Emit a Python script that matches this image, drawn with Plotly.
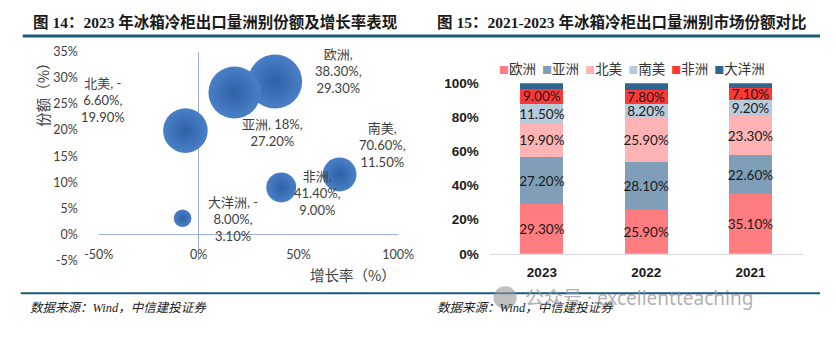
import plotly.graph_objects as go

W, H = 836, 339

# ---------------- data: left bubble chart ----------------
regions = ["欧洲", "亚洲", "北美", "南美", "非洲", "大洋洲"]
growth = [38.3, 18.0, -6.6, 70.6, 41.4, -8.0]      # 增长率 (%)
share = [29.3, 27.2, 19.9, 11.5, 9.0, 3.1]         # 份额 (%)
bubble_labels = [
    "欧洲,<br>38.30%,<br>29.30%",
    "亚洲, 18%,<br>27.20%",
    "北美, -<br>6.60%,<br>19.90%",
    "南美,<br>70.60%,<br>11.50%",
    "非洲,<br>41.40%,<br>9.00%",
    "大洋洲, -<br>8.00%,<br>3.10%",
]
x_ticks = [-50, 0, 50, 100]
y_ticks = [-5, 0, 5, 10, 15, 20, 25, 30, 35]

# ---------------- data: right stacked bars ----------------
years = ["2023", "2022", "2021"]
europe = [29.3, 25.9, 35.1]
asia = [27.2, 28.1, 22.6]
north_america = [19.9, 25.9, 23.3]
south_america = [11.5, 8.2, 9.2]
africa = [9.0, 7.8, 7.1]
oceania = [3.1, 4.1, 2.7]
bar_ticks = [0, 20, 40, 60, 80, 100]

# ---------------- styles ----------------
label_shift = [(63, 11), (38, -40), (-82, 31), (43, 29), (36, -6), (50, -1)]
bar_series = [
    ("欧洲", europe, "#ff7c80", True),
    ("亚洲", asia, "#7f9fb9", True),
    ("北美", north_america, "#ffb3b5", True),
    ("南美", south_america, "#b8cbdb", True),
    ("非洲", africa, "#ff3737", True),
    ("大洋洲", oceania, "#2f6690", False),
]

CJK = "Noto Sans CJK SC"
LAT = "Lato, Noto Sans CJK SC"


def fx(p):
    return p / W


def fy(p):
    return 1 - p / H


def pct(v):
    return f"{v}%"


fig = go.Figure()

# Bubble chart
fig.add_trace(go.Scatter(
    x=growth, y=share, mode="markers", xaxis="x", yaxis="y",
    marker=dict(size=share, sizemode="area", sizeref=0.02, opacity=1,
                color="#4a7fc7",
                gradient=dict(type="radial", color="#2f61a5"),
                line=dict(width=0)),
    showlegend=False, hoverinfo="skip",
))

# Stacked bars
for name, vals, col, show in bar_series:
    fig.add_trace(go.Bar(
        x=years, y=vals, name=name, xaxis="x2", yaxis="y2",
        marker=dict(color=col, line=dict(width=0)),
        texttemplate="%{y:.2f}%" if show else "",
        textposition="inside" if show else "none",
        insidetextanchor="middle", textangle=0, constraintext="none",
        textfont=dict(family=LAT, size=13.5, color="#1a1a1a"),
        showlegend=False, hoverinfo="skip",
    ))

ly0, ly1 = fy(265), fy(46)
ymin, ymax = -5, 35
x_pos = ly0 + (0 - ymin) / (ymax - ymin) * (ly1 - ly0)

annotations = []
for g, s, t, (dx, dy) in zip(growth, share, bubble_labels, label_shift):
    annotations.append(dict(
        x=g, y=s, xref="x", yref="y", text=t, showarrow=False,
        xshift=dx, yshift=dy, align="center",
        font=dict(family=LAT, size=13, color="#404040"),
    ))

# axis titles (left)
annotations.append(dict(x=fx(29), y=fy(87), xref="paper", yref="paper",
                        xanchor="center", yanchor="middle",
                        text="份额（%）", textangle=-90, showarrow=False,
                        font=dict(family=CJK, size=14.5, color="#404040")))
annotations.append(dict(x=fx(351), y=fy(280), xref="paper", yref="paper",
                        xanchor="center", yanchor="middle",
                        text="增长率（%）", showarrow=False,
                        font=dict(family=CJK, size=14.5, color="#404040")))

# titles
title_font = dict(family="Liberation Serif, " + CJK, size=15.5, color="#1a1a1a")
annotations.append(dict(x=fx(17), y=fy(15), xref="paper", yref="paper",
                        xanchor="left", yanchor="middle", showarrow=False,
                        text="<b>图 14：2023 年冰箱冷柜出口量洲别份额及增长率表现</b>",
                        font=title_font))
annotations.append(dict(x=fx(436), y=fy(15), xref="paper", yref="paper",
                        xanchor="left", yanchor="middle", showarrow=False,
                        text="<b>图 15：2021-2023 年冰箱冷柜出口量洲别市场份额对比</b>",
                        font=title_font))

# sources
src_font = dict(family="Liberation Serif, " + CJK, size=12.5, color="#222222")
for xs in (13, 436):
    annotations.append(dict(x=fx(xs), y=fy(315), xref="paper", yref="paper",
                            xanchor="left", yanchor="middle", showarrow=False,
                            text="<i>数据来源：Wind，中信建投证券</i>", font=src_font))

# watermark
annotations.append(dict(x=fx(528), y=fy(304), xref="paper", yref="paper",
                        xanchor="left", yanchor="middle", showarrow=False,
                        text="公众号 · excellentteaching",
                        font=dict(family="Noto Sans, " + CJK, size=19, color="rgba(150,150,150,0.75)")))

# legend (right)
legend_parts = []
for name, vals, col, show in bar_series:
    legend_parts.append(
        f"<span style='color:{col};font-size:10px'>■</span>{name}")
annotations.append(dict(x=fx(641), y=fy(63), xref="paper", yref="paper",
                        xanchor="center", yanchor="middle", showarrow=False,
                        text="  ".join(legend_parts),
                        font=dict(family=CJK, size=13.5, color="#333333")))

shapes = [
    dict(type="line", xref="paper", yref="paper", x0=fx(8), x1=1,
         y0=fy(29.5), y1=fy(29.5), line=dict(color="#1c5a7a", width=3)),
    dict(type="line", xref="paper", yref="paper", x0=fx(6), x1=1,
         y0=fy(299.5), y1=fy(299.5), line=dict(color="#1c5a7a", width=2)),
    dict(type="circle", xref="paper", yref="paper", x0=fx(497), x1=fx(521),
         y0=fy(316), y1=fy(292), fillcolor="rgba(150,150,150,0.6)", line=dict(width=0)),
]

fig.update_layout(
    width=W, height=H, margin=dict(l=0, r=0, t=0, b=0),
    paper_bgcolor="white", plot_bgcolor="rgba(0,0,0,0)",
    barmode="stack", bargap=0.59,
    annotations=annotations, shapes=shapes,
    xaxis=dict(domain=[fx(87), fx(398)], range=[-50, 100],
               tickmode="array", tickvals=x_ticks, ticktext=[pct(v) for v in x_ticks],
               anchor="free", position=x_pos,
               showline=True, linecolor="#9bb0d3", linewidth=1,
               zeroline=True, zerolinecolor="#9bb0d3", zerolinewidth=1,
               showgrid=False, ticks="", ticklabelstandoff=9,
               tickfont=dict(family=LAT, size=12.5, color="#404040")),
    yaxis=dict(domain=[ly0, ly1], range=[ymin, ymax],
               tickmode="array", tickvals=y_ticks, ticktext=[pct(v) for v in y_ticks],
               anchor="x", showline=False, zeroline=False,
               showgrid=False, ticks="", ticklabelstandoff=20,
               tickfont=dict(family=LAT, size=12.5, color="#404040")),
    xaxis2=dict(domain=[fx(493), fx(818)], anchor="y2",
                showline=True, linecolor="#d9d9d9", linewidth=1,
                showgrid=False, zeroline=False, ticks="", ticklabelstandoff=6,
                tickfont=dict(family="Liberation Sans", size=13.5, color="#1a1a1a", weight="bold")),
    yaxis2=dict(domain=[fy(258), fy(79)], range=[0, 100], anchor="x2",
                tickmode="array", tickvals=bar_ticks, ticktext=[pct(v) for v in bar_ticks],
                showline=False, showgrid=False, zeroline=False, ticks="", ticklabelstandoff=10,
                tickfont=dict(family="Liberation Sans", size=13.5, color="#1a1a1a", weight="bold")),
)

fig.write_html("out.html")
